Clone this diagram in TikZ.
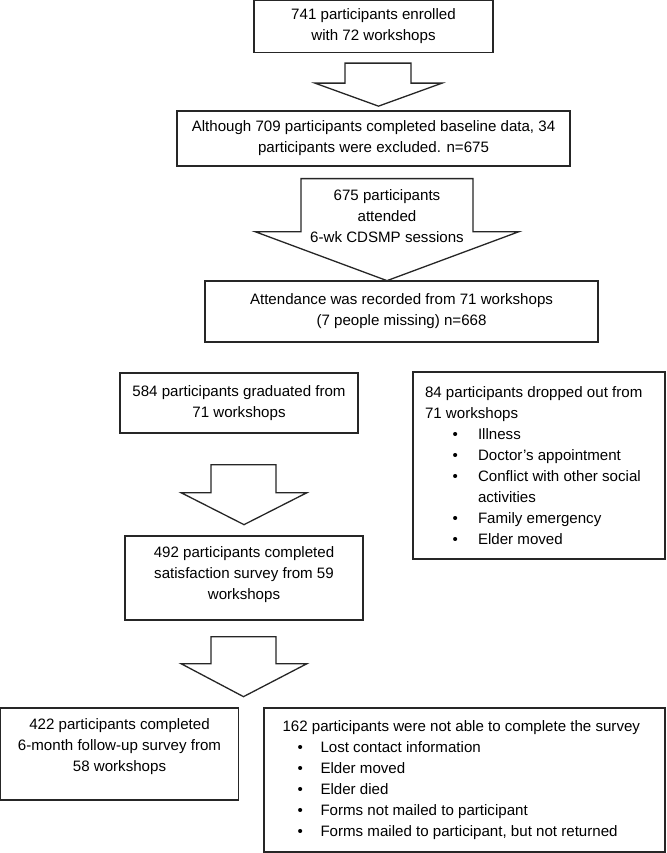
\documentclass[tikz,border=0pt]{standalone}
\usepackage{fontspec}
\setmainfont{Liberation Sans}
\usepackage{tikz}
\newenvironment{reasonlist}[2]{%
  \begin{list}{\textbullet}{%
    \setlength{\leftmargin}{#1}\setlength{\labelsep}{#2}%
    \setlength{\labelwidth}{\dimexpr#1-#2\relax}%
    \setlength{\itemsep}{0pt}\setlength{\parsep}{0pt}%
    \setlength{\topsep}{0pt}\setlength{\partopsep}{0pt}}}%
  {\end{list}}
\tikzset{
    flow-box/.style = {draw=black!85, line width=1.3pt, rectangle, inner sep=0pt, align=center, font=\fontsize{15.1}{21}\selectfont},
    block-arrow/.style = {draw=black!85, line width=1.3pt, fill=white, line join=miter},
    arrow-text/.style = {align=center, font=\fontsize{15.1}{21}\selectfont},
}

\begin{document}
\begin{tikzpicture}[x=1pt, y=-1pt]
\useasboundingbox (0,0) rectangle (666,853);

% main line
\node [flow-box, minimum width=239pt, minimum height=52pt] (enrolled) at (373.5,26.5) {741 participants enrolled\\with 72 workshops};
\node [flow-box, minimum width=393pt, minimum height=55pt] (baseline) at (373.5,138.5) {Although 709 participants completed baseline data, 34\\participants were excluded. n=675};
\node [flow-box, minimum width=393pt, minimum height=61pt] (attendance) at (401.5,311.5) {Attendance was recorded from 71 workshops\\(7 people missing) n=668};
\node [flow-box, minimum width=238pt, minimum height=60pt] (graduated) at (239,403) {584 participants graduated from\\71 workshops};
\node [flow-box, minimum width=238pt, minimum height=84pt] (satisfaction) at (244,578) {\begin{minipage}[c][62pt][t]{230pt}\centering
    492 participants completed\\satisfaction survey from 59\\workshops
\end{minipage}};
\node [flow-box, minimum width=238pt, minimum height=92pt] (followup) at (119.5,754) {\begin{minipage}[c][70pt][t]{230pt}\centering
    422 participants completed\\6-month follow-up survey from\\58 workshops
\end{minipage}};

% drop-outs
\node [flow-box, minimum width=252pt, minimum height=187pt] (dropped) at (539,465.5) {\begin{minipage}{228pt}\raggedright
    84 participants dropped out from\\71 workshops
    \begin{reasonlist}{53pt}{20pt}
        \item Illness
        \item Doctor’s appointment
        \item Conflict with other social\\activities
        \item Family emergency
        \item Elder moved
    \end{reasonlist}
\end{minipage}};
\node [flow-box, minimum width=401pt, minimum height=144pt] (notcompleted) at (464.5,780) {\begin{minipage}{364pt}\raggedright
    162 participants were not able to complete the survey
    \begin{reasonlist}{38pt}{17.5pt}
        \item Lost contact information
        \item Elder moved
        \item Elder died
        \item Forms not mailed to participant
        \item Forms mailed to participant, but not returned
    \end{reasonlist}
\end{minipage}};

% block arrows
\draw [block-arrow] (enrolled.south) ++(-28.5,10) -- ++(0,20) -- ++(-30,0) -- ++(63.5,23) -- ++(63.5,-23) -- ++(-31,0) -- ++(0,-20) -- cycle;
\draw [block-arrow] (baseline.south) ++(-72.5,12) -- ++(0,53) -- ++(-46,0) -- ++(132,49) -- ++(132,-49) -- ++(-46,0) -- ++(0,-53) -- cycle;
\node [arrow-text] (attended) at (387,216) {675 participants\\attended\\6-wk CDSMP sessions};
\draw [block-arrow] (graduated.south) ++(-28,31) -- ++(0,28) -- ++(-30,0) -- ++(63,32) -- ++(63,-32) -- ++(-31,0) -- ++(0,-28) -- cycle;
\draw [block-arrow] (satisfaction.south) ++(-33,16) -- ++(0,27) -- ++(-30,0) -- ++(62.5,33) -- ++(63.5,-33) -- ++(-31,0) -- ++(0,-27) -- cycle;
\end{tikzpicture}
\end{document}
